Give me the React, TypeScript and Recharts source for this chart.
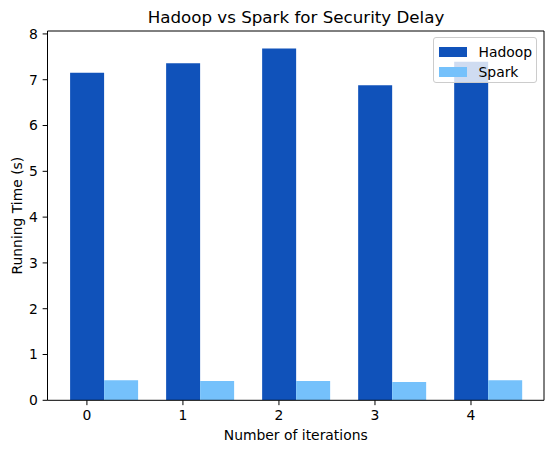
import React from "react"
import { Bar, BarChart, CartesianGrid, Legend, XAxis, YAxis } from "recharts"

const iterations = [0, 1, 2, 3, 4]
const hadoopTimes = [7.15, 7.36, 7.68, 6.88, 7.39]
const sparkTimes = [0.44, 0.42, 0.42, 0.4, 0.44]
const yTicks = [0, 1, 2, 3, 4, 5, 6, 7, 8]

const FONT = "'DejaVu Sans', sans-serif"
const FS = 13.9
const TICK_LEN = 4.86
// matplotlib puts the tick under the first bar of each group, not the group centre
const TICK_SHIFT = 16.8

const data = iterations.map((it, i) => ({
  iteration: it,
  Hadoop: hadoopTimes[i],
  Spark: sparkTimes[i],
}))

// matplotlib's 5% headroom above the tallest bar
const yMax = Math.max(...hadoopTimes, ...sparkTimes) * 1.05

const IterTick = (props: any) => {
  const { x, y, payload } = props
  const tx = x - TICK_SHIFT
  return (
    <g>
      <line x1={tx} x2={tx} y1={y} y2={y + TICK_LEN} stroke="#000" strokeWidth={1} />
      <text x={tx} y={y + 19.9} textAnchor="middle" fontFamily={FONT} fontSize={FS} fill="#000">
        {payload.value}
      </text>
    </g>
  )
}

const LegendBox = (props: any) => {
  const items = props.payload || []
  return (
    <div
      style={{
        width: 104,
        height: 46,
        boxSizing: "border-box",
        border: "1px solid #cccccc",
        borderRadius: 3,
        background: "rgba(255,255,255,0.8)",
        fontFamily: FONT,
        fontSize: FS,
        position: "relative",
      }}
    >
      {items.map((p: any, i: number) => (
        <div key={p.value} style={{ position: "absolute", left: 5, top: 5 + i * 20, height: 18, display: "flex", alignItems: "center" }}>
          <div style={{ width: 28, height: 9.7, background: p.color }} />
          <span style={{ marginLeft: 11.5, color: "#000", lineHeight: "18px" }}>{p.value}</span>
        </div>
      ))}
    </div>
  )
}

export default function App() {
  return (
    <div style={{ position: "relative", width: 546, height: 445 }}>
      <BarChart
        width={546}
        height={445}
        data={data}
        margin={{ top: 23, right: 10, left: 0, bottom: 0 }}
        barCategoryGap="15%"
        barGap={0}
      >
        {/* top and right spines */}
        <CartesianGrid
          stroke="#000"
          horizontalCoordinatesGenerator={({ offset }: any) => [offset.top]}
          verticalCoordinatesGenerator={({ offset }: any) => [offset.left + offset.width]}
        />
        <XAxis
          dataKey="iteration"
          height={52.7}
          padding={{ left: 8.2, right: 8.2 }}
          tickSize={0}
          tickMargin={0}
          tickLine={false}
          axisLine={{ stroke: "#000" }}
          tick={<IterTick />}
          interval={0}
          label={{ value: "Number of iterations", position: "insideBottom", offset: 13, fill: "#000", fontFamily: FONT, fontSize: FS }}
        />
        <YAxis
          width={39.5}
          domain={[0, yMax]}
          ticks={yTicks}
          tickSize={TICK_LEN}
          tickMargin={4.86}
          allowDataOverflow
          tickLine={{ stroke: "#000" }}
          axisLine={{ stroke: "#000" }}
          tick={{ fill: "#000", fontFamily: FONT, fontSize: FS }}
          label={{ value: "Running Time (s)", angle: -90, position: "insideLeft", offset: 9, fill: "#000", fontFamily: FONT, fontSize: FS, style: { textAnchor: "middle" } }}
        />
        <Legend
          layout="horizontal"
          verticalAlign="middle"
          align="center"
          content={<LegendBox />}
          wrapperStyle={{ top: 29, left: 425, width: 104, height: 46 }}
        />
        <Bar dataKey="Hadoop" fill="#1052ba" isAnimationActive={false} />
        <Bar dataKey="Spark" fill="#75c1fb" isAnimationActive={false} />
      </BarChart>
      <svg width={546} height={30} style={{ position: "absolute", left: 0, top: 0, pointerEvents: "none" }}>
        <text x={288} y={14.7} textAnchor="middle" fontFamily={FONT} fontSize={16.7} fill="#000">
          Hadoop vs Spark for Security Delay
        </text>
      </svg>
    </div>
  )
}
